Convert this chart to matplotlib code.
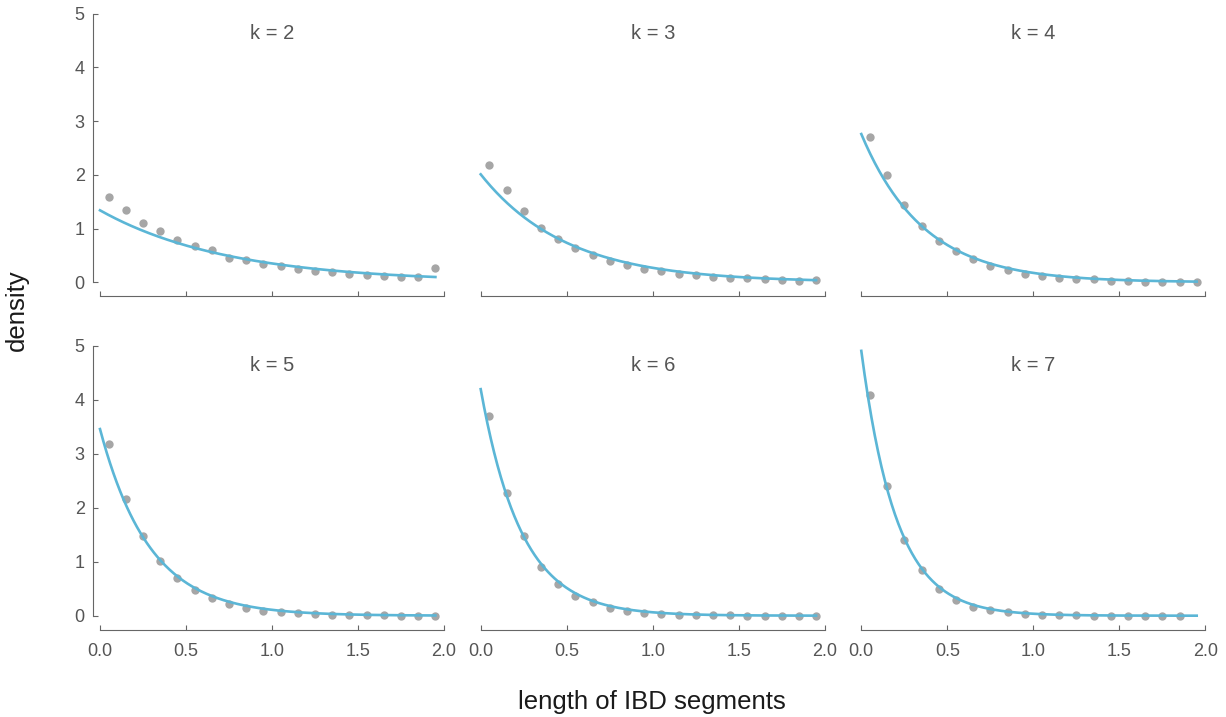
import numpy as np
import matplotlib
matplotlib.use("Agg")
import matplotlib.pyplot as plt

# bin midpoints of the IBD-length histogram
bin_mid = [0.05, 0.15, 0.25, 0.35, 0.45, 0.55, 0.65, 0.75, 0.85, 0.95,
           1.05, 1.15, 1.25, 1.35, 1.45, 1.55, 1.65, 1.75, 1.85, 1.95]

ks = [2, 3, 4, 5, 6, 7]

dens_k2 = [1.59, 1.35, 1.10, 0.96, 0.79, 0.68, 0.60, 0.45, 0.42, 0.34,
           0.31, 0.24, 0.21, 0.19, 0.155, 0.13, 0.12, 0.10, 0.10, 0.26]
dens_k3 = [2.18, 1.72, 1.32, 1.02, 0.81, 0.63, 0.50, 0.40, 0.32, 0.255,
           0.205, 0.155, 0.13, 0.105, 0.087, 0.075, 0.056, 0.043, 0.031, 0.043]
dens_k4 = [2.71, 1.99, 1.44, 1.04, 0.77, 0.58, 0.43, 0.31, 0.22, 0.16,
           0.124, 0.087, 0.068, 0.056, 0.031, 0.025, 0.012, 0.006, 0.006, 0.006]
dens_k5 = [3.18, 2.16, 1.48, 1.01, 0.69, 0.47, 0.32, 0.22, 0.15, 0.093,
           0.068, 0.043, 0.025, 0.019, 0.012, 0.006, 0.004, 0.003, 0.002, 0.002]
dens_k6 = [3.70, 2.28, 1.48, 0.91, 0.59, 0.37, 0.25, 0.15, 0.087, 0.056,
           0.031, 0.019, 0.012, 0.006, 0.004, 0.002, 0.001, 0.001, 0.001, 0.001]
dens_k7 = [4.10, 2.40, 1.41, 0.85, 0.50, 0.30, 0.17, 0.105, 0.062, 0.031,
           0.019, 0.006, 0.004, 0.002, 0.001, 0.001, 0.001, 0.001, 0.001]

# fitted exponential rate for each k (curve intercept)
rate = [1.34, 2.01, 2.76, 3.46, 4.20, 4.91]

observed = [dens_k2, dens_k3, dens_k4, dens_k5, dens_k6, dens_k7]

BLUE, PT, TXT, SPINE = "#5BB6D6", "#A6A6A6", "#555555", "#666666"

plt.rcParams.update({"font.family": ["Liberation Sans", "DejaVu Sans"]})

W, H = 1226, 717
fig = plt.figure(figsize=(W / 100, H / 100), dpi=100)

cols_px = [100.0, 480.7, 861.3]
pw = 344.0
rows_px = [(13.7, 282.3), (346.0, 615.7)]

xgrid = np.linspace(0, 1.95, 300)

for i, k in enumerate(ks):
    r, c = divmod(i, 3)
    top, bot = rows_px[r]
    ax = fig.add_axes([cols_px[c] / W, (H - bot) / H, pw / W, (bot - top) / H])
    ax.set_xlim(0, 2)
    ax.set_ylim(0, 5)
    ys = observed[i]
    ax.plot(bin_mid[:len(ys)], ys, "o", color=PT, ms=6, mec="none", clip_on=False, zorder=2)
    lam = rate[i]
    ax.plot(xgrid, lam * np.exp(-lam * xgrid), color=BLUE, lw=1.9, clip_on=False, zorder=3)
    ax.text(1.0, 4.63, f"k = {k}", ha="center", va="center", color=TXT, fontsize=14.5)

    for s in ("top", "right"):
        ax.spines[s].set_visible(False)
    ax.spines["bottom"].set_position(("outward", 10))
    ax.spines["bottom"].set_bounds(0, 2)
    ax.spines["bottom"].set_color(SPINE)
    ax.set_xticks([0, 0.5, 1.0, 1.5, 2.0])
    ax.tick_params(axis="x", direction="in", length=3.6, color=SPINE, labelcolor=TXT,
                   labelsize=13, pad=10)
    if r == 0:
        ax.set_xticklabels([])
    else:
        ax.set_xticklabels(["0.0", "0.5", "1.0", "1.5", "2.0"])
    if c == 0:
        ax.spines["left"].set_position(("outward", 5))
        ax.spines["left"].set_bounds(0, 5)
        ax.spines["left"].set_color(SPINE)
        ax.set_yticks([0, 1, 2, 3, 4, 5])
        ax.tick_params(axis="y", direction="in", length=3.6, color=SPINE, labelcolor=TXT,
                       labelsize=13, pad=6)
    else:
        ax.spines["left"].set_visible(False)
        ax.set_yticks([])
    ax.patch.set_alpha(0)

fig.text(16.5 / W, (H - 310) / H, "density", rotation=90, ha="center", va="center",
         fontsize=18.5, color="#1A1A1A")
fig.text(652 / W, (H - 709) / H, "length of IBD segments", ha="center", va="baseline",
         fontsize=18.5, color="#1A1A1A")

fig.savefig("out.png", dpi=100, facecolor="white")
